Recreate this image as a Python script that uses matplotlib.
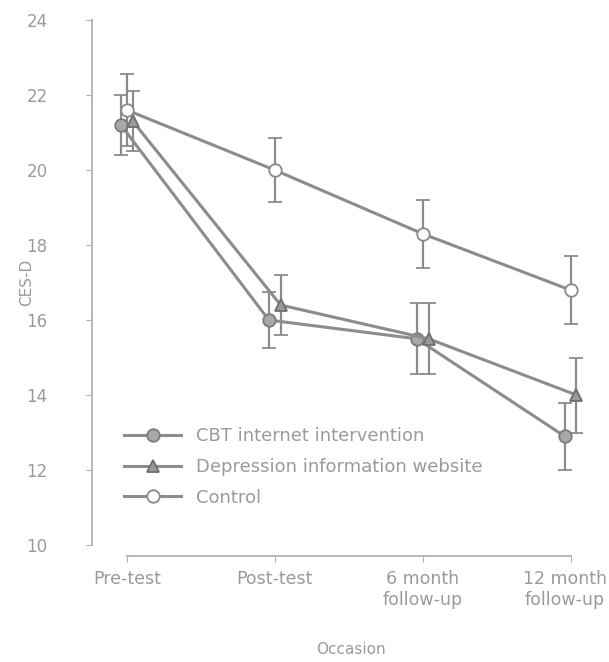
import matplotlib.pyplot as plt
from matplotlib.lines import Line2D
from matplotlib.transforms import ScaledTranslation
import numpy as np

occasions = ["Pre-test", "Post-test", "6 month\nfollow-up", "12 month\nfollow-up"]
groups = ["CBT internet intervention", "Depression information website", "Control"]

cbt = [21.2, 16.0, 15.5, 12.9]
cbt_err = [0.8, 0.75, 0.95, 0.9]
depr = [21.3, 16.4, 15.5, 14.0]
depr_err = [0.8, 0.8, 0.95, 1.0]
control = [21.6, 20.0, 18.3, 16.8]
control_err = [0.95, 0.85, 0.9, 0.9]

TEXT = "#9a9a9a"
LINE = "#8c8c8c"

fig = plt.figure(figsize=(6.09, 6.62), dpi=100)
ax = fig.add_axes([0.151, 0.1767, 0.849, 0.793])

x = np.arange(len(occasions))
styles = [
    (cbt, cbt_err, -0.04, dict(marker="o", markerfacecolor="#a8a8a8", markeredgecolor="#7a7a7a")),
    (depr, depr_err, 0.04, dict(marker="^", markerfacecolor="#9a9a9a", markeredgecolor="#6e6e6e")),
    (control, control_err, 0.0, dict(marker="o", markerfacecolor="white", markeredgecolor="#8a8a8a")),
]
handles = []
for (vals, errs, off, mk), name in zip(styles, groups):
    ax.errorbar(x + off, vals, yerr=errs, color=LINE, lw=2.2, elinewidth=1.6,
                capsize=5, capthick=1.6, markersize=9, markeredgewidth=1.3, **mk)
    handles.append(Line2D([], [], color=LINE, lw=2.2, markersize=9,
                          markeredgewidth=1.3, label=name, **mk))

ax.set_xlim(-0.236, 3.26)
ax.set_ylim(10, 24)
ax.set_yticks(range(10, 25, 2))
ax.set_xticks(x)
ax.set_xticklabels(occasions)

for s in ["top", "right"]:
    ax.spines[s].set_visible(False)
ax.spines["bottom"].set_bounds(0, 3)
ax.spines["bottom"].set_position(("outward", 8))
for s in ["left", "bottom"]:
    ax.spines[s].set_color("#b0b0b0")
    ax.spines[s].set_linewidth(1.3)

ax.tick_params(axis="y", colors="#b0b0b0", labelcolor=TEXT, labelsize=12,
               length=4, pad=28)
ax.tick_params(axis="x", colors="#b0b0b0", labelcolor=TEXT, labelsize=12.5,
               length=4, pad=6)

# keep the last label inside the figure
last = ax.get_xticklabels()[-1]
last.set_transform(last.get_transform() + ScaledTranslation(-0.06, 0, fig.dpi_scale_trans))

ax.set_ylabel("CES-D", color=TEXT, fontsize=11, labelpad=-6)
ax.set_xlabel("Occasion", color=TEXT, fontsize=11, labelpad=24)

leg = ax.legend(handles=handles, loc="upper left", bbox_to_anchor=(0.03, 0.255),
                frameon=False, fontsize=13, handlelength=3.2, labelspacing=0.7)
for t in leg.get_texts():
    t.set_color(TEXT)

fig.savefig("out.png", dpi=100)
